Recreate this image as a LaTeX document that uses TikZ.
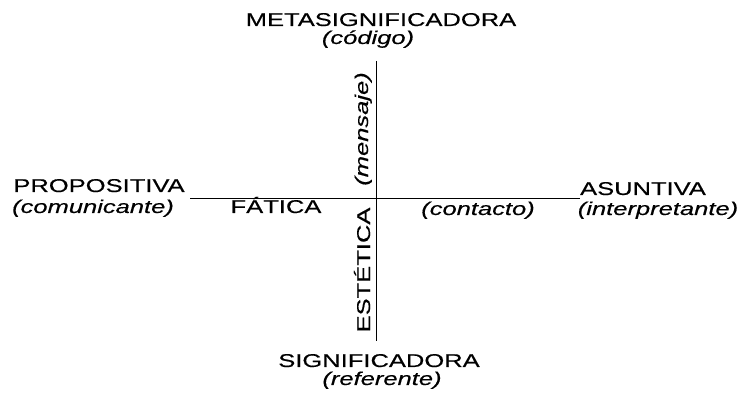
\documentclass[tikz,border=0pt]{standalone}
\usepackage{fontspec}
\newfontfamily\diafont[FakeStretch=1.38,FakeBold=0.4]{Liberation Sans}
\begin{document}
\begin{tikzpicture}[x=1pt,y=1pt,
  lab/.style={font=\diafont\fontsize{18.5}{20}\selectfont, inner sep=0pt, anchor=base},
  ital/.style={lab, font=\diafont\itshape\fontsize{18.5}{20}\selectfont},
  axis/.style={line width=1pt, black}]
\useasboundingbox (0,0) rectangle (744,396);
% axes
\coordinate (L) at (190,197);
\coordinate (R) at (580,197);
\coordinate (T) at (376,335);
\coordinate (B) at (376,55);
\draw[axis] (L) -- (R);
\draw[axis] (T) -- (B);
% labels
\node[lab]  (meta) at (381,370) {METASIGNIFICADORA};
\node[ital] (cod)  at (368,352) {(código)};
\node[lab]  (sig)  at (379,29) {SIGNIFICADORA};
\node[ital] (ref)  at (382,11) {(referente)};
\node[lab]  (prop) at (99,204) {PROPOSITIVA};
\node[ital] (com)  at (93,183) {(comunicante)};
\node[lab]  (fat)  at (276,183) {FÁTICA};
\node[lab]  (asu)  at (643,201) {ASUNTIVA};
\node[ital] (int)  at (658,181) {(interpretante)};
\node[ital] (con)  at (478,181) {(contacto)};
\node[ital, rotate=90] (men) at (368,267) {(mensaje)};
\node[lab, rotate=90]  (est) at (370,126) {ESTÉTICA};
\end{tikzpicture}
\end{document}
